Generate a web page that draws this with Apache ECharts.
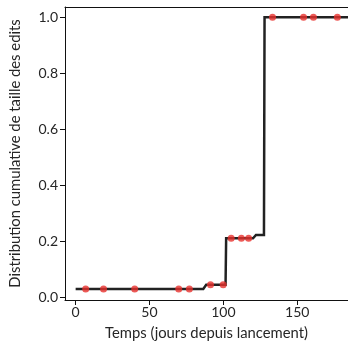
<!DOCTYPE html>
<html>
<head>
<meta charset="utf-8">
<script src="https://cdn.jsdelivr.net/npm/echarts@6/dist/echarts.min.js"></script>
<style>html,body{margin:0;padding:0;background:#fff;}#c{width:348px;height:354px;}</style>
</head>
<body>
<div id="c"></div>
<script>
// Step line (cumulative distribution) vertices
const lineX = [0, 86.4, 88.4, 101.5, 101.9, 120.1, 122.1, 127.5, 127.9, 184.5];
const lineY = [0.03, 0.03, 0.045, 0.045, 0.211, 0.211, 0.223, 0.223, 1.0, 1.0];
// Red points (edits)
const pointX = [6.8, 18.9, 40.0, 69.8, 77.0, 91.3, 99.9, 105.3, 112.2, 117.1, 133.3, 154.3, 161.0, 177.2];
const pointY = [0.03, 0.03, 0.03, 0.03, 0.03, 0.045, 0.045, 0.211, 0.211, 0.211, 1.0, 1.0, 1.0, 1.0];
// Tick labels
const xTicks = [0, 50, 100, 150];
const yTicks = [0, 0.2, 0.4, 0.6, 0.8, 1.0];
const xName = 'Temps (jours depuis lancement)';
const yName = 'Distribution cumulative de taille des edits';

const FONT = 'Lato';
const TXT = '#262626';
const chart = echarts.init(document.getElementById('c'), null, {renderer: 'canvas'});
chart.setOption({
  animation: false,
  backgroundColor: '#fff',
  grid: {left: 64, right: 0, top: 7, bottom: 54, containLabel: false},
  xAxis: [{
    type: 'value', min: -7.2, max: 184.4,
    name: xName, nameLocation: 'middle', nameGap: 26,
    nameTextStyle: {fontFamily: FONT, fontSize: 14.8, color: TXT},
    axisLine: {show: true, onZero: false, lineStyle: {color: '#111', width: 1}},
    axisTick: {show: true, length: 5, customValues: xTicks, lineStyle: {color: '#111'}},
    axisLabel: {customValues: xTicks, fontFamily: FONT, fontSize: 14, color: TXT, margin: 5},
    splitLine: {show: false}
  }, {
    type: 'value', position: 'top', min: -7.2, max: 184.4,
    axisLine: {show: true, onZero: false, lineStyle: {color: '#111', width: 1}},
    axisTick: {show: false}, axisLabel: {show: false}, splitLine: {show: false}
  }],
  yAxis: [{
    type: 'value', min: -0.009, max: 1.037,
    name: yName, nameLocation: 'middle', nameGap: 42,
    nameTextStyle: {fontFamily: FONT, fontSize: 14.8, color: TXT},
    axisLine: {show: true, onZero: false, lineStyle: {color: '#111', width: 1}},
    axisTick: {show: true, length: 5, customValues: yTicks, lineStyle: {color: '#111'}},
    axisLabel: {customValues: yTicks, fontFamily: FONT, fontSize: 14, color: TXT, margin: 7,
      padding: [0, 0, 8, 0],
      formatter: v => v.toFixed(1)},
    splitLine: {show: false}
  }],
  series: [{
    type: 'line',
    data: lineX.map((x, i) => [x, lineY[i]]),
    showSymbol: false, symbol: 'none',
    lineStyle: {color: '#222', width: 2.5, join: 'miter'},
    z: 2
  }, {
    type: 'scatter',
    data: pointX.map((x, i) => [x, pointY[i]]),
    symbol: 'circle', symbolSize: 7,
    itemStyle: {color: '#e8322e'},
    z: 3
  }]
});
</script>
</body>
</html>
